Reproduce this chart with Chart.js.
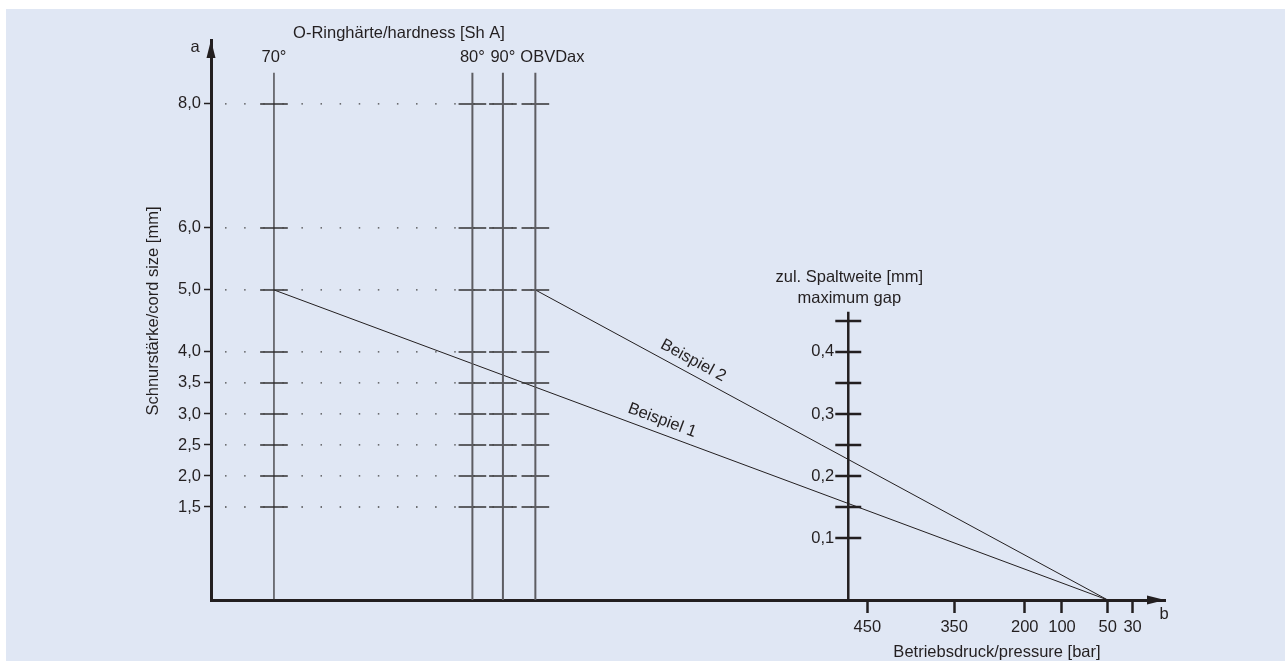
<!DOCTYPE html>
<html>
<head>
<meta charset="utf-8">
<script src="https://cdn.jsdelivr.net/npm/chart.js@4.4.1/dist/chart.umd.min.js"></script>
<style>
  html, body { margin: 0; padding: 0; background: #fff; }
  #wrap { width: 1287px; height: 661px; }
</style>
</head>
<body>
<div id="wrap"><canvas id="nomo" width="1287" height="661"></canvas></div>
<script>
// cord size scale (left axis), in mm
const cordTicks = [1.5, 2, 2.5, 3, 3.5, 4, 5, 6, 8];
// O-ring hardness columns and where they sit on the horizontal helper scale
const hardnessLabels = ["70°", "80°", "90°", "OBVDax"];
const hardnessPos = [6.6, 27.4, 30.6, 34.0];
// max gap scale (middle vertical axis), in mm
const gapTicks = [0.1, 0.15, 0.2, 0.25, 0.3, 0.35, 0.4, 0.45];
const gapLabels = ["0,1", "", "0,2", "", "0,3", "", "0,4", ""];
const gapPos = 66.8;
// pressure scale (bottom axis), in bar
const pressureTicks = [450, 350, 200, 100, 50, 30];
const pressurePos = [68.8, 77.9, 85.3, 89.2, 94.0, 96.6];
// worked examples: hardness column, cord size, pressure
const exampleLabels = ["Beispiel 1", "Beispiel 2"];
const exampleHardness = ["70°", "OBVDax"];
const exampleCord = [5.0, 5.0];
const examplePressure = [50, 50];

const ink = "#231f20";
const font = "'Liberation Sans', Arial, sans-serif";
const fs = 16.5;
const fmt = v => v.toFixed(1).replace(".", ",");

const colX = label => hardnessPos[hardnessLabels.indexOf(label)];
const pressX = p => pressurePos[pressureTicks.indexOf(p)];

// segments with null gaps between them
const segments = (xs, ys, half) => {
  const out = [];
  xs.forEach(x => ys.forEach(y => {
    out.push({ x: x - half, y: y }, { x: x + half, y: y }, { x: x, y: null });
  }));
  return out;
};

const datasets = [];

// dotted guide lines
cordTicks.forEach(v => {
  datasets.push({
    data: [{ x: 1.47, y: v }, { x: 35.3, y: v }],
    borderColor: "#444", borderWidth: 1.3, borderDash: [1.5, 17.6]
  });
});

// hardness columns
hardnessLabels.forEach((h, i) => {
  datasets.push({
    data: [{ x: hardnessPos[i], y: 0 }, { x: hardnessPos[i], y: 8.5 }],
    borderColor: i === 0 ? "#2a2829" : "#5d5d62", borderWidth: i === 0 ? 1.2 : 2
  });
});
datasets.push({
  data: segments(hardnessPos, cordTicks, 1.45),
  borderColor: "#333", borderWidth: 1.5
});

// gap axis
datasets.push({
  data: [{ x: gapPos, y: 0 }, { x: gapPos, y: 4.65 }],
  borderColor: ink, borderWidth: 2.5
});
datasets.push({
  data: segments([gapPos], gapTicks.map(g => g * 10), 1.36),
  borderColor: ink, borderWidth: 2.5
});

// example lines
exampleLabels.forEach((l, i) => {
  datasets.push({
    data: [{ x: colX(exampleHardness[i]), y: exampleCord[i] }, { x: pressX(examplePressure[i]), y: 0 }],
    borderColor: ink, borderWidth: 1
  });
});

datasets.forEach(d => { d.showLine = true; d.pointRadius = 0; d.fill = false; d.spanGaps = false; });

const txt = (ctx, s, x, y, align, rot) => {
  ctx.save();
  ctx.translate(x, y);
  if (rot) ctx.rotate(rot);
  ctx.textAlign = align || "center";
  ctx.textBaseline = "middle";
  ctx.fillText(s, 0, 0);
  ctx.restore();
};

const decor = {
  id: "decor",
  beforeDraw(chart) {
    const ctx = chart.ctx;
    ctx.save();
    ctx.fillStyle = "#fff";
    ctx.fillRect(0, 0, chart.width, chart.height);
    ctx.fillStyle = "#e0e7f4";
    ctx.fillRect(6, 9, 1279, 652);
    ctx.restore();
  },
  afterDraw(chart) {
    const ctx = chart.ctx;
    const xs = chart.scales.x, ys = chart.scales.y;
    const a = chart.chartArea;
    ctx.save();
    ctx.fillStyle = ink;
    // arrow heads
    ctx.beginPath();
    ctx.moveTo(a.left, a.top);
    ctx.lineTo(a.left - 4.5, a.top + 18);
    ctx.lineTo(a.left + 4.5, a.top + 18);
    ctx.closePath();
    ctx.fill();
    ctx.beginPath();
    ctx.moveTo(a.right, a.bottom);
    ctx.lineTo(a.right - 18, a.bottom - 4.5);
    ctx.lineTo(a.right - 18, a.bottom + 4.5);
    ctx.closePath();
    ctx.fill();

    ctx.font = fs + "px " + font;
    txt(ctx, "a", a.left - 16, 47);
    txt(ctx, "b", a.right - 1, 614);
    txt(ctx, "O-Ringhärte/hardness [Sh A]", 399, 33);
    txt(ctx, "Schnurstärke/cord size [mm]", 153, 311, "center", -Math.PI / 2);
    txt(ctx, "Betriebsdruck/pressure [bar]", 997, 652);

    // hardness labels
    hardnessLabels.forEach((h, i) => {
      const px = xs.getPixelForValue(hardnessPos[i]);
      if (h === "OBVDax") txt(ctx, h, px - 15, 57, "left");
      else txt(ctx, h, px, 57);
    });

    // gap axis labels
    const gx = xs.getPixelForValue(gapPos);
    gapTicks.forEach((g, i) => {
      if (gapLabels[i]) txt(ctx, gapLabels[i], gx - 14, ys.getPixelForValue(g * 10), "right");
    });
    txt(ctx, "zul. Spaltweite [mm]", gx + 1, 277);
    txt(ctx, "maximum gap", gx + 1, 298);

    // example labels along their lines
    const tPos = [0.46, 0.265];
    exampleLabels.forEach((l, i) => {
      const x0 = xs.getPixelForValue(colX(exampleHardness[i]));
      const y0 = ys.getPixelForValue(exampleCord[i]);
      const x1 = xs.getPixelForValue(pressX(examplePressure[i]));
      const y1 = ys.getPixelForValue(0);
      const ang = Math.atan2(y1 - y0, x1 - x0);
      const t = tPos[i];
      const cx = x0 + (x1 - x0) * t + Math.sin(ang) * 13;
      const cy = y0 + (y1 - y0) * t - Math.cos(ang) * 13;
      txt(ctx, l, cx, cy, "center", ang);
    });
    ctx.restore();
  }
};

new Chart(document.getElementById("nomo"), {
  type: "scatter",
  data: { datasets: datasets },
  options: {
    responsive: false,
    animation: false,
    layout: { padding: { top: 40, right: 122, left: 0, bottom: 0 } },
    plugins: { legend: { display: false }, tooltip: { enabled: false } },
    scales: {
      x: {
        type: "linear", min: 0, max: 100,
        afterFit: s => { s.height = 61; },
        afterBuildTicks: s => { s.ticks = pressurePos.map(v => ({ value: v })); },
        ticks: {
          autoSkip: false, maxRotation: 0, padding: 5, color: ink,
          font: { size: fs, family: font },
          callback: (v, i) => pressureTicks[i]
        },
        grid: { drawOnChartArea: false, tickLength: 13, tickColor: ink, tickWidth: 2.5 },
        border: { color: ink, width: 3 }
      },
      y: {
        type: "linear", min: 0, max: 9.03,
        afterFit: s => { s.width = 211; },
        afterBuildTicks: s => { s.ticks = cordTicks.map(v => ({ value: v })); },
        ticks: {
          autoSkip: false, padding: 3, color: ink,
          font: { size: fs, family: font },
          callback: v => fmt(v)
        },
        grid: { drawOnChartArea: false, tickLength: 7, tickColor: ink, tickWidth: 1.5 },
        border: { color: ink, width: 3 }
      }
    }
  },
  plugins: [decor]
});
</script>
</body>
</html>
